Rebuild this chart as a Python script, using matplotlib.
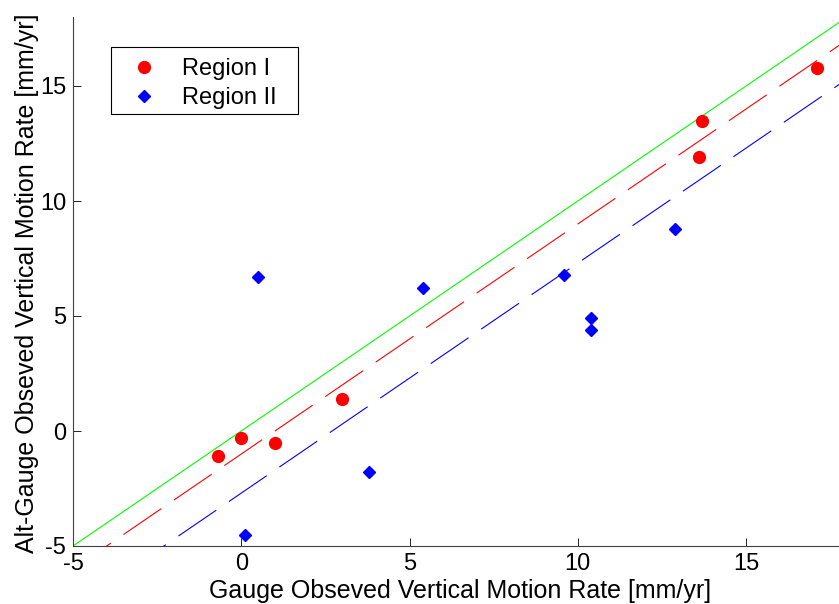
import matplotlib
matplotlib.use("Agg")
import matplotlib.pyplot as plt
from matplotlib.patches import Rectangle

# Region I (red circles)
region1_x = [-0.7, 0.0, 1.0, 3.0, 13.7, 13.6, 17.1]
region1_y = [-1.1, -0.3, -0.5, 1.4, 13.5, 11.9, 15.8]

# Region II (blue diamonds)
region2_x = [0.1, 0.5, 3.8, 5.4, 9.6, 10.4, 10.4, 12.9]
region2_y = [-4.5, 6.7, -1.8, 6.2, 6.8, 4.9, 4.4, 8.8]

# reference lines: y = x + offset
line_x = [-5, 18]
offset_one_to_one = 0.0
offset_region1 = -1.0
offset_region2 = -2.7

plt.rcParams["font.family"] = ["Liberation Sans", "DejaVu Sans"]
plt.rcParams["lines.scale_dashes"] = False
plt.rcParams["axes.unicode_minus"] = False

W, H = 839, 604
fig = plt.figure(figsize=(W / 100, H / 100), dpi=100)
ax = fig.add_axes([73 / W, 58 / H, 774 / W, 529 / H])

ax.plot(line_x, [x + offset_one_to_one for x in line_x], color="#00ff00", lw=0.8)
ax.plot(line_x, [x + offset_region1 for x in line_x], color="red", lw=0.8, dashes=(33, 11))
ax.plot(line_x, [x + offset_region2 for x in line_x], color="blue", lw=0.8, dashes=(33, 11))

ax.plot(region1_x, region1_y, "o", color="red", markersize=8.5, label="Region I")
ax.plot(region2_x, region2_y, "D", color="blue", markersize=6.5, label="Region II")

ax.set_xlim(-5, 18)
ax.set_ylim(-5, 18)
ax.set_xticks([-5, 0, 5, 10, 15])
ax.set_yticks([-5, 0, 5, 10, 15])

for side in ["top", "right"]:
    ax.spines[side].set_visible(False)
for side in ["left", "bottom"]:
    ax.spines[side].set_color("#404040")
    ax.spines[side].set_linewidth(0.8)
ax.tick_params(direction="in", length=5.5, width=0.6, labelsize=17, pad=5)

ax.set_xlabel("Gauge Obseved Vertical Motion Rate [mm/yr]", fontsize=18)
ax.set_ylabel("Alt-Gauge Obseved Vertical Motion Rate [mm/yr]", fontsize=18)
ax.xaxis.set_label_coords(0.4995, -0.062)
ax.yaxis.set_label_coords(-0.044, 0.497)

# legend box drawn separately so its padding matches
ax.add_patch(Rectangle((111 / W, 1 - 114 / H), 187 / W, 67 / H, transform=fig.transFigure,
                       facecolor="white", edgecolor="black", linewidth=0.8, zorder=5, clip_on=False))
leg = ax.legend(loc="upper left", bbox_to_anchor=(111 / W, 1 - 52 / H), bbox_transform=fig.transFigure,
                fontsize=17, frameon=False, numpoints=1, borderpad=0.25, borderaxespad=0,
                handlelength=2.3, handletextpad=0.45, labelspacing=0.3)
leg.set_zorder(6)

fig.savefig("out.png", dpi=100)
